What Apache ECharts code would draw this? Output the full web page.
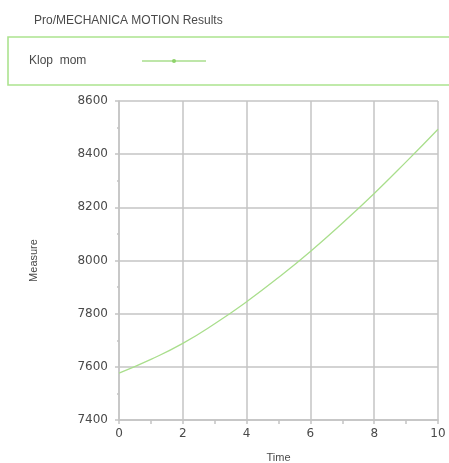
<!DOCTYPE html>
<html>
<head>
<meta charset="utf-8">
<script src="https://cdn.jsdelivr.net/npm/echarts@6/dist/echarts.min.js"></script>
<style>
  html, body { margin: 0; padding: 0; background: #fff; }
  #chart { width: 449px; height: 463px; }
</style>
</head>
<body>
<div id="chart"></div>
<script>
// Time samples (s) and the measured "Klop mom" values
const timeValues = [0, 1, 2, 3, 4, 5, 6, 7, 8, 9, 10];
const klopMom = [7576, 7628, 7688, 7762, 7845, 7936, 8034, 8140, 8252, 8371, 8494];
const xTicks = [0, 2, 4, 6, 8, 10];
const yTicks = [7400, 7600, 7800, 8000, 8200, 8400, 8600];
const seriesName = 'Klop  mom';

const gridColor = '#c4c4c4';
const lineColor = '#a9de8c';
const textColor = '#4a4a4a';
const fontFamily = 'Liberation Sans, Arial, sans-serif';
const numFont = 'DejaVu Sans, sans-serif';

const chart = echarts.init(document.getElementById('chart'), null, { renderer: 'canvas' });

chart.setOption({
  animation: false,
  backgroundColor: '#fff',
  title: {
    text: 'Pro/MECHANICA MOTION Results',
    left: 29, top: 10,
    textStyle: { fontFamily, fontSize: 12, fontWeight: 'normal', color: textColor }
  },
  // legend frame with the series name and its line sample
  graphic: [
    {
      type: 'rect',
      shape: { x: 8, y: 37, width: 470, height: 48 },
      style: { fill: 'none', stroke: '#ace38f', lineWidth: 1.6 },
      silent: true
    },
    {
      type: 'text',
      x: 29, y: 61,
      style: { text: seriesName, font: '12px ' + fontFamily, fill: textColor, textVerticalAlign: 'middle' },
      silent: true
    },
    {
      type: 'line',
      shape: { x1: 142, y1: 61, x2: 206, y2: 61 },
      style: { stroke: lineColor, lineWidth: 1.5 },
      silent: true
    },
    {
      type: 'circle',
      shape: { cx: 174, cy: 61, r: 2 },
      style: { fill: '#8ed36a' },
      silent: true
    }
  ],
  grid: { left: 119, right: 11, top: 101, bottom: 43, containLabel: false, outerBoundsMode: 'none' },
  xAxis: {
    type: 'value',
    min: xTicks[0], max: xTicks[xTicks.length - 1], interval: 2,
    name: 'Time', nameLocation: 'middle', nameGap: 32,
    nameTextStyle: { fontFamily, fontSize: 11, color: textColor },
    axisLine: { show: true, lineStyle: { color: gridColor, width: 1.5 } },
    axisTick: { show: true, length: 4, lineStyle: { color: gridColor, width: 1.5 } },
    minorTick: { show: true, splitNumber: 2, length: 4, lineStyle: { color: gridColor, width: 1.5 } },
    splitLine: { show: true, lineStyle: { color: gridColor, width: 1.5 } },
    axisLabel: { fontFamily: numFont, fontSize: 12, color: textColor, margin: 8,
      formatter: v => xTicks.includes(v) ? String(v) : '' }
  },
  yAxis: {
    type: 'value',
    min: yTicks[0], max: yTicks[yTicks.length - 1], interval: 200,
    name: 'Measure', nameLocation: 'middle', nameGap: 80,
    nameTextStyle: { fontFamily, fontSize: 11, color: textColor },
    axisLine: { show: true, lineStyle: { color: gridColor, width: 1.5 } },
    axisTick: { show: true, length: 4, lineStyle: { color: gridColor, width: 1.5 } },
    minorTick: { show: true, splitNumber: 2, length: 2, lineStyle: { color: gridColor, width: 1.5 } },
    splitLine: { show: true, lineStyle: { color: gridColor, width: 1.5 } },
    axisLabel: { fontFamily: numFont, fontSize: 12, color: textColor, margin: 11,
      formatter: v => yTicks.includes(v) ? String(v) : '' }
  },
  series: [{
    name: seriesName,
    type: 'line',
    data: timeValues.map((t, i) => [t, klopMom[i]]),
    smooth: true,
    showSymbol: false,
    symbol: 'circle',
    itemStyle: { color: lineColor },
    lineStyle: { color: lineColor, width: 1.3 }
  }]
});
</script>
</body>
</html>
